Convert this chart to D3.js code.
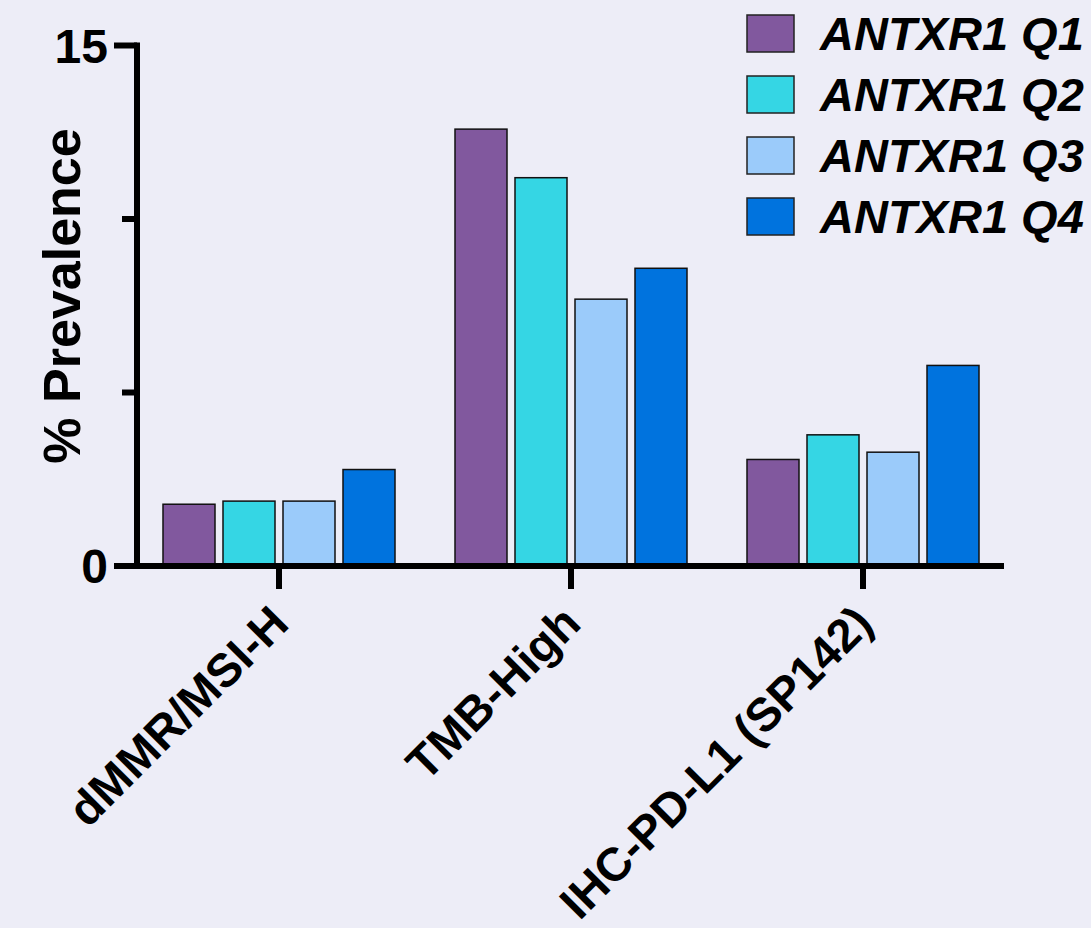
<!DOCTYPE html>
<html>
<head>
<meta charset="utf-8">
<script src="https://cdn.jsdelivr.net/npm/d3@7"></script>
<style>
  html, body { margin: 0; padding: 0; background: #ededf7; }
  svg { display: block; font-family: Arial, "Liberation Sans", Helvetica, sans-serif; }
</style>
</head>
<body>
<script>
const categories = ["dMMR/MSI-H", "TMB-High", "IHC-PD-L1 (SP142)"];
const seriesNames = ["ANTXR1 Q1", "ANTXR1 Q2", "ANTXR1 Q3", "ANTXR1 Q4"];
const q1 = [1.78, 12.59, 3.07];
const q2 = [1.87, 11.19, 3.78];
const q3 = [1.87, 7.69, 3.28];
const q4 = [2.78, 8.58, 5.78];
const seriesColors = ["#81589e", "#35d6e4", "#9bcbfa", "#0073de"];
const yTickValues = [0, 5, 10, 15];
const yTickLabels = ["0", "", "", "15"];

const seriesValues = [q1, q2, q3, q4];
const W = 1091, H = 928;

const svg = d3.select("body").append("svg")
  .attr("width", W).attr("height", H);
svg.append("rect").attr("width", W).attr("height", H).attr("fill", "#ededf7");

const y = d3.scaleLinear().domain([0, 15]).range([566, 45.5]);
const x0 = d3.scaleBand().domain(categories).range([133, 1009]).padding(0);
const x1 = d3.scaleBand().domain(seriesNames)
  .range([x0.bandwidth() / 2 - 120, x0.bandwidth() / 2 + 120])
  .paddingInner(8 / 60).paddingOuter(4 / 60);

// bars
const groups = svg.append("g").selectAll("g")
  .data(categories).join("g")
  .attr("transform", d => `translate(${x0(d)},0)`);

groups.selectAll("rect")
  .data((c, ci) => seriesNames.map((s, si) => ({ s, si, v: seriesValues[si][ci] })))
  .join("rect")
  .attr("x", d => x1(d.s))
  .attr("width", x1.bandwidth())
  .attr("y", d => y(d.v))
  .attr("height", d => y(0) - y(d.v))
  .attr("fill", d => seriesColors[d.si])
  .attr("stroke", "#111")
  .attr("stroke-width", 1.5);

// y axis
const axisX = 137;
const yAxis = svg.append("g");
yAxis.append("line")
  .attr("x1", axisX).attr("x2", axisX)
  .attr("y1", y(15) - 3).attr("y2", y(0) + 3)
  .attr("stroke", "#000").attr("stroke-width", 6);
yAxis.selectAll("line.tick")
  .data(yTickValues.filter(v => v !== 0)).join("line")
  .attr("class", "tick")
  .attr("x1", d => yTickLabels[yTickValues.indexOf(d)] ? 114 : 122)
  .attr("x2", axisX)
  .attr("y1", d => y(d)).attr("y2", d => y(d))
  .attr("stroke", "#000").attr("stroke-width", 6);
yAxis.selectAll("text")
  .data(yTickValues.map((v, i) => ({ v, t: yTickLabels[i] })).filter(d => d.t))
  .join("text")
  .attr("x", 108)
  .attr("y", d => y(d.v))
  .attr("dy", "0.36em")
  .attr("text-anchor", "end")
  .attr("font-size", 48)
  .attr("font-weight", "bold")
  .text(d => d.t);

// x axis
const xAxis = svg.append("g");
xAxis.append("line")
  .attr("x1", 114).attr("x2", 1004)
  .attr("y1", y(0)).attr("y2", y(0))
  .attr("stroke", "#000").attr("stroke-width", 6);
xAxis.selectAll("line.tick")
  .data(categories).join("line")
  .attr("class", "tick")
  .attr("x1", d => x0(d) + x0.bandwidth() / 2)
  .attr("x2", d => x0(d) + x0.bandwidth() / 2)
  .attr("y1", y(0)).attr("y2", y(0) + 23)
  .attr("stroke", "#000").attr("stroke-width", 6);
xAxis.selectAll("text")
  .data(categories).join("text")
  .attr("transform", d => `translate(${x0(d) + x0.bandwidth() / 2},${y(0) + 48}) rotate(-45)`)
  .attr("dy", "0.36em")
  .attr("text-anchor", "end")
  .attr("font-size", 47)
  .attr("font-weight", "bold")
  .text(d => d);

// y label
svg.append("text")
  .attr("transform", "translate(80,296) rotate(-90)")
  .attr("text-anchor", "middle")
  .attr("font-size", 52)
  .attr("font-weight", "bold")
  .text("% Prevalence");

// legend
const legend = svg.append("g");
const lg = legend.selectAll("g").data(seriesNames).join("g")
  .attr("transform", (d, i) => `translate(747,${15 + i * 61})`);
lg.append("rect")
  .attr("width", 47).attr("height", 37)
  .attr("fill", (d, i) => seriesColors[i])
  .attr("stroke", "#222").attr("stroke-width", 1.5);
lg.append("text")
  .attr("x", 73).attr("y", 18.5)
  .attr("dy", "0.36em")
  .attr("font-size", 47)
  .attr("font-weight", "bold")
  .attr("font-style", "italic")
  .text(d => d);
</script>
</body>
</html>
